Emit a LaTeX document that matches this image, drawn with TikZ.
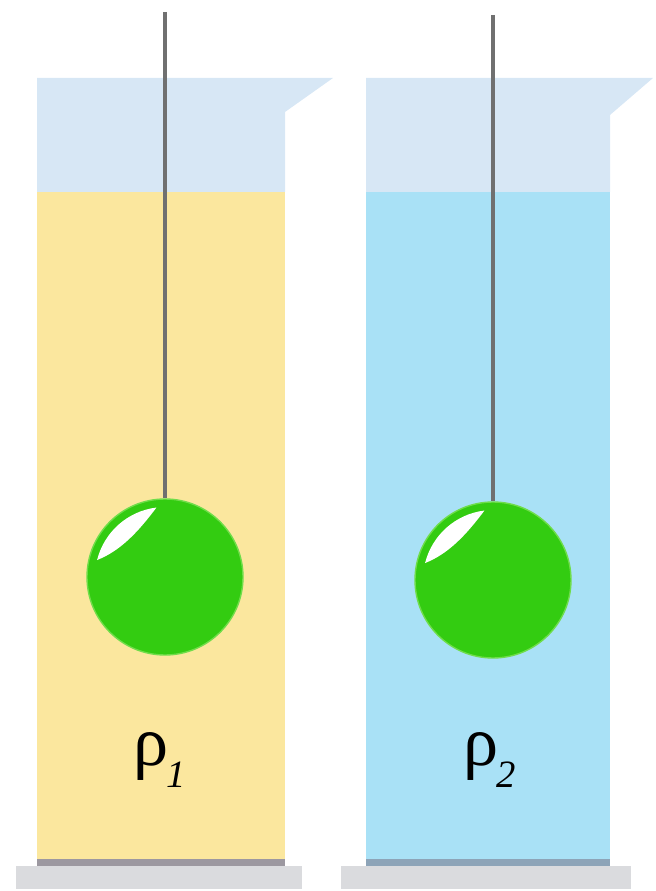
\documentclass[tikz,border=0pt]{standalone}
\usepackage{fontspec}
\setmainfont{Liberation Serif}
\usepackage{tikz}
\usetikzlibrary{calc}

\definecolor{airtint}{HTML}{D7E7F5}
\definecolor{oil}{HTML}{FBE79E}
\definecolor{water}{HTML}{A9E1F6}
\definecolor{oilfoot}{HTML}{9C98A0}
\definecolor{waterfoot}{HTML}{8DA4B8}
\definecolor{stand}{HTML}{DADBDE}
\definecolor{thread}{HTML}{707070}
\definecolor{bobgreen}{HTML}{33CC11}
\definecolor{bobrim}{HTML}{6FDD4A}

\tikzset{
  bob/.style={circle,minimum size=31.2mm,inner sep=0pt,fill=bobgreen,draw=bobrim,line width=.8pt},
  threadline/.style={thread,line width=2.3pt},
  densitylabel/.style={inner sep=0pt,font=\fontsize{40}{40}\selectfont}
}
\newcommand{\glint}[1]{\fill[white,shift={(#1.center)}] (166:70) arc[start angle=166,end angle=97,radius=70] .. controls (122:52) and (150:52) .. (166:70) -- cycle;}

\begin{document}
\begin{tikzpicture}[x=.2mm,y=.2mm]
\useasboundingbox (0,0) rectangle (656,891);
% left beaker, oil
\fill[airtint] (37,699) -- (37,813) -- (333,813) -- (285,779) -- (285,699) -- cycle;
\fill[oil] (37,32) rectangle (285,699);
\fill[oilfoot] (37,25) rectangle (285,32);
\fill[stand] (16,2) rectangle (302,25);
% right beaker, water
\fill[airtint] (366,699) -- (366,813) -- (653,813) -- (610,776) -- (610,699) -- cycle;
\fill[water] (366,32) rectangle (610,699);
\fill[waterfoot] (366,25) rectangle (610,32);
\fill[stand] (341,2) rectangle (631,25);
% balls on threads
\node[bob] (ball1) at (165,314) {};
\node[bob] (ball2) at (493,311) {};
\coordinate (hook1) at (165,879);
\coordinate (hook2) at (493,876);
\draw[threadline] (hook1) -- (ball1.north);
\draw[threadline] (hook2) -- (ball2.north);
\glint{ball1}
\glint{ball2}
\node[densitylabel] (rho1) at (160,131) {ρ\kern-1pt\raisebox{-.3em}{\fontsize{22}{22}\selectfont\itshape 1}};
\node[densitylabel] (rho2) at (490,131) {ρ\kern-1pt\raisebox{-.3em}{\fontsize{22}{22}\selectfont\itshape 2}};
\end{tikzpicture}
\end{document}
